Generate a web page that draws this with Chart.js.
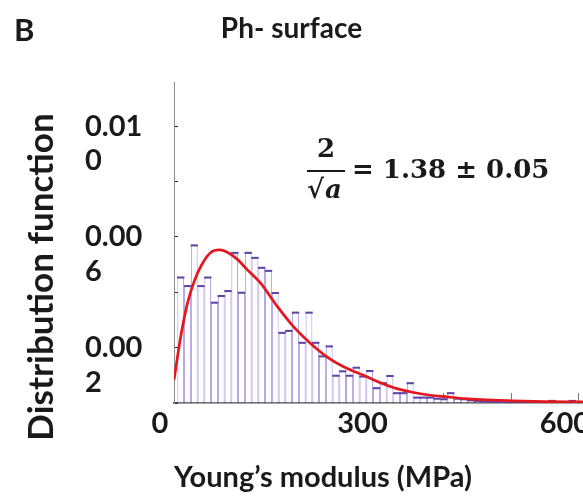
<!DOCTYPE html>
<html>
<head>
<meta charset="utf-8">
<script src="https://cdn.jsdelivr.net/npm/chart.js@4.4.1/dist/chart.umd.min.js"></script>
<style>
  html, body { margin: 0; padding: 0; background: #fff; overflow: hidden; }
  #wrap { width: 583px; height: 496px; }
</style>
</head>
<body>
<div id="wrap"><canvas id="chart"></canvas></div>
<script>
// histogram bins (MPa), 10 MPa wide
const binCenters = [10, 20, 30, 40, 50, 60, 70, 80, 90, 100,
  110, 120, 130, 140, 150, 160, 170, 180, 190, 200,
  210, 220, 230, 240, 250, 260, 270, 280, 290, 300,
  310, 320, 330, 340, 350, 360, 370, 380, 390, 400,
  410, 420, 430, 440, 450, 460, 470, 480, 490, 500,
  510, 520, 530, 540, 550, 560, 570, 580, 590, 600];
const density = [0.00456, 0.00425, 0.00572, 0.00425, 0.00456, 0.00365, 0.00389, 0.00407, 0.00545, 0.00401,
  0.00545, 0.00527, 0.00491, 0.00480, 0.00400, 0.00256, 0.00263, 0.00329, 0.00220, 0.00329,
  0.00220, 0.00171, 0.00207, 0.00101, 0.00117, 0.00101, 0.00130, 0.00098, 0.00118, 0.00056,
  0.00074, 0.00100, 0.00038, 0.00038, 0.00074, 0.00022, 0.00022, 0.00022, 0.00018, 0.00016,
  0.00038, 0.00018, 0.00016, 0.00012, 0.00010, 0.00008, 0.00007, 0.00006, 0.00005, 0.00004,
  0.00003, 0.00003, 0.00002, 0.00002, 0.00001, 0.00010, 0.00001, 0.00002, 0.00010, 0.00004];

// fitted distribution (red curve)
const fitX = [0, 10, 20, 30, 40, 54, 67, 79, 94, 108, 128, 153, 177, 202, 227, 252, 280, 305, 330, 355, 380, 405, 430, 455, 500, 550, 606];
const fitY = [0.00083, 0.00240, 0.00361, 0.00440, 0.00495, 0.00543, 0.00553, 0.00545, 0.00519, 0.00483, 0.00434,
  0.00349, 0.00276, 0.00216, 0.00166, 0.00130, 0.00101, 0.00074, 0.00052, 0.00038, 0.00028, 0.00022,
  0.00016, 0.00012, 0.00008, 0.00005, 0.00004];

// tick marks and the labels printed on them (the y ones wrap onto two lines)
const xTicks = [0, 100, 200, 300, 400, 500, 600];
const xTickValues = [0, 300, 600];
const xTickText = ['0', '300', '600'];
const yTicks = [0, 0.002, 0.004, 0.006, 0.008, 0.010];
const yTickValues = [0.002, 0.006, 0.010];
const yTickText = [['0.00', '2'], ['0.00', '6'], ['0.01', '0']];

const capSize = 0.00005;
const boldLato = (size, lineHeight) => ({ family: 'Lato', size, weight: 'bold', lineHeight });
const findTick = (list, v, eps) => list.findIndex(t => Math.abs(t - v) < eps);

// panel letter and the formula
const annotate = {
  id: 'annotate',
  afterDraw(chart) {
    const ctx = chart.ctx;
    ctx.save();
    ctx.fillStyle = '#1a1a1a';
    ctx.textBaseline = 'middle';
    ctx.font = 'bold 31px Lato';
    ctx.fillText('B', 14, 31);

    ctx.font = 'bold 26px "DejaVu Serif"';
    ctx.textAlign = 'center';
    ctx.fillText('2', 326, 150);
    ctx.fillRect(307, 170, 38, 2);
    ctx.textAlign = 'left';
    ctx.fillText('\u221A', 307, 191);
    ctx.font = 'italic bold 26px "DejaVu Serif"';
    ctx.fillText('a', 325, 191);
    ctx.font = 'bold 26px "DejaVu Serif"';
    ctx.fillText('= 1.38 \u00B1 0.05', 352, 171);
    ctx.restore();
  }
};

new Chart(document.getElementById('chart'), {
  type: 'bar',
  data: {
    datasets: [{
      type: 'line',
      data: fitX.map((x, i) => ({ x, y: fitY[i] })),
      borderColor: '#e3171f',
      borderWidth: 2.7,
      pointRadius: 0,
      cubicInterpolationMode: 'monotone',
      order: 0
    }, {
      data: binCenters.map((x, i) => ({ x, y: [density[i] - capSize, density[i]] })),
      backgroundColor: '#5e43a8',
      borderWidth: 0,
      barPercentage: 1,
      categoryPercentage: 1,
      grouped: false,
      order: 1
    }, {
      data: binCenters.map((x, i) => ({ x, y: density[i] })),
      backgroundColor: '#ffffff',
      borderColor: '#a592e0',
      borderWidth: { left: 1, right: 1, top: 0, bottom: 0 },
      borderSkipped: false,
      inflateAmount: 0,
      barPercentage: 1,
      categoryPercentage: 1,
      grouped: false,
      order: 2
    }]
  },
  options: {
    responsive: true,
    maintainAspectRatio: false,
    animation: false,
    layout: { padding: { top: 58, left: 0, right: 0, bottom: 0 } },
    plugins: {
      legend: { display: false },
      tooltip: { enabled: false },
      title: {
        display: true,
        text: 'Ph- surface',
        color: '#1a1a1a',
        font: boldLato(28, 1.2),
        padding: { top: -46, bottom: 36.4 }
      }
    },
    scales: {
      x: {
        type: 'linear',
        min: 0,
        max: 606,
        offset: false,
        border: { color: '#4a4a4a', width: 1.5 },
        grid: { offset: false, drawOnChartArea: false, tickLength: -10, tickColor: '#7a7a7a' },
        afterBuildTicks: (s) => { s.ticks = xTicks.map(value => ({ value })); },
        ticks: {
          autoSkip: false,
          maxRotation: 0,
          padding: 13.6,
          labelOffset: -14,
          color: '#1a1a1a',
          font: boldLato(29, 1.2),
          callback: (v) => {
            const i = findTick(xTickValues, v, 0.5);
            return i < 0 ? '' : xTickText[i];
          }
        },
        title: {
          display: true,
          text: 'Young\u2019s modulus (MPa)',
          align: 'start',
          color: '#1a1a1a',
          font: boldLato(29, 1.2),
          padding: { top: 4, bottom: 0.6 }
        },
        afterFit: (s) => { s.paddingLeft = 0; s.paddingRight = 0; s.height = 93; }
      },
      y: {
        min: 0,
        max: 0.0116,
        weight: 0,
        border: { color: '#8c8c8c', width: 1 },
        grid: { drawOnChartArea: false, tickLength: -4, tickColor: '#222' },
        afterBuildTicks: (s) => { s.ticks = yTicks.map(value => ({ value })); },
        ticks: {
          autoSkip: false,
          crossAlign: 'far',
          padding: 20,
          color: '#1a1a1a',
          font: boldLato(29, 1.2),
          callback: (v) => {
            const i = findTick(yTickValues, v, 1e-9);
            return i < 0 ? '' : [''].concat(yTickText[i]);
          }
        },
        afterFit: (s) => { s.paddingTop = 0; s.paddingBottom = 0; s.width = 89; }
      },
      yTitle: {
        type: 'linear',
        position: 'left',
        weight: 1,
        fullSize: true,
        grid: { display: false, drawTicks: false },
        border: { display: false },
        ticks: { display: false },
        title: {
          display: true,
          text: 'Distribution function',
          color: '#1a1a1a',
          font: boldLato(35, 1.2),
          padding: { top: 21, bottom: 0 }
        },
        afterFit: (s) => { s.width = 85; }
      }
    }
  },
  plugins: [annotate]
});
</script>
</body>
</html>
